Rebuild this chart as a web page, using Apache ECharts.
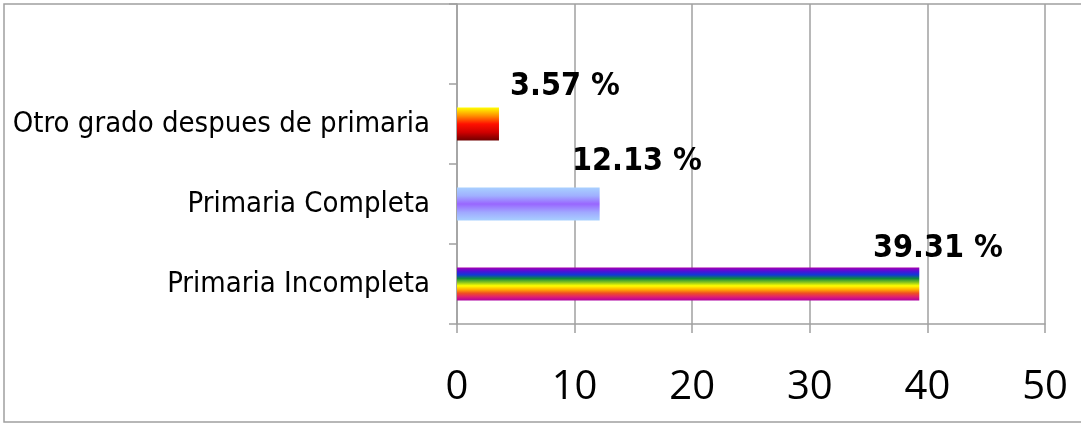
<!DOCTYPE html>
<html><head><meta charset="utf-8">
<script src="https://cdn.jsdelivr.net/npm/echarts@6/dist/echarts.min.js"></script>
<style>html,body{margin:0;padding:0;background:#fff}#c{width:1081px;height:424px}</style>
</head><body><div id="c"></div>
<script>
const categories = ["Primaria Incompleta", "Primaria Completa", "Otro grado despues de primaria", ""];
const values = [39.31, 12.13, 3.57, null];
const xTicks = [0, 10, 20, 30, 40, 50];

const grad = (stops) => new echarts.graphic.LinearGradient(0, 0, 0, 1, stops.map((c, i) => ({offset: i / (stops.length - 1), color: c})));
const fills = [
  grad(['#a800b0', '#5010d8', '#1038d8', '#108840', '#80c020', '#ffff00', '#ffb000', '#f05020', '#e02070', '#b000a0']),
  grad(['#a8d0ff', '#a0b0ff', '#9966ff', '#a0a8ff', '#a8d0ff']),
  grad(['#ffff00', '#ff9000', '#ff1000', '#d00000', '#700000'])
];
const labelPos = [[416, -19], [115, -26], [53, -21]];

const chart = echarts.init(document.getElementById('c'), null, {renderer: 'canvas'});
chart.setOption({
  animation: false,
  grid: {left: 457, right: 36, top: 4, bottom: 100, containLabel: false},
  graphic: [{type: 'rect', shape: {x: 4, y: 4, width: 1200, height: 418}, style: {fill: 'none', stroke: '#a0a0a0', lineWidth: 1.5}, silent: true, z: 100}],
  xAxis: {
    type: 'value', min: 0, max: 50, interval: 10,
    axisLine: {show: true, lineStyle: {color: '#a0a0a0', width: 1.5}},
    axisTick: {show: true, length: 9, lineStyle: {color: '#a0a0a0', width: 1.5}},
    splitLine: {show: true, lineStyle: {color: '#a0a0a0', width: 1.5}},
    axisLabel: {margin: 44, fontFamily: 'Open Sans', fontSize: 40, color: '#000',
      formatter: v => xTicks.includes(v) ? String(v) : ''}
  },
  yAxis: {
    type: 'category', data: categories,
    axisLine: {show: true, lineStyle: {color: '#a0a0a0', width: 1.5}},
    axisTick: {show: true, length: 8, lineStyle: {color: '#a0a0a0', width: 1.5}},
    axisLabel: {margin: 27, fontFamily: 'DejaVu Sans Condensed', fontSize: 29, color: '#000'}
  },
  series: [{
    type: 'bar', barWidth: 33,
    data: values.map((v, i) => v == null ? null : {
      value: v,
      itemStyle: {color: fills[i]},
      label: {show: true, position: labelPos[i], align: 'left', verticalAlign: 'middle',
        formatter: v.toFixed(2) + ' %', fontFamily: 'DejaVu Sans Condensed', fontWeight: 'bold', fontSize: 32, color: '#000'}
    })
  }]
});
</script></body></html>
